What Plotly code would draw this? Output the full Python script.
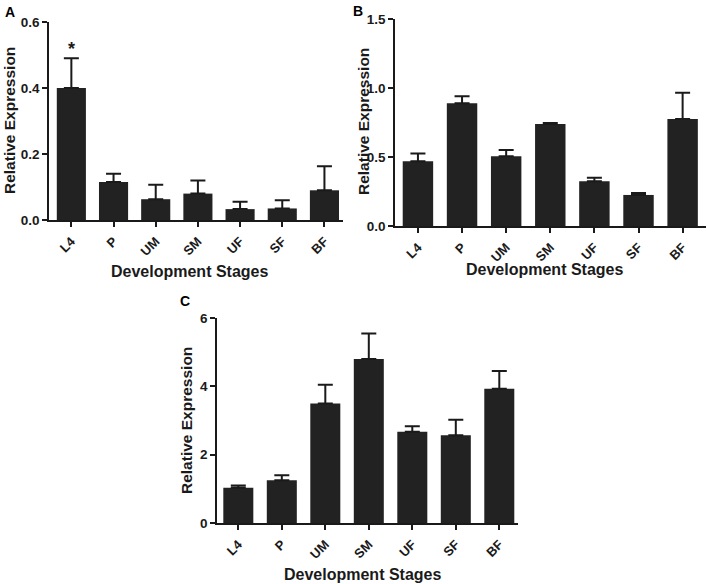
import plotly.graph_objects as go

stages = ["L4", "P", "UM", "SM", "UF", "SF", "BF"]

a_values = [0.400, 0.115, 0.063, 0.080, 0.033, 0.035, 0.090]
a_err = [0.090, 0.025, 0.044, 0.040, 0.022, 0.025, 0.073]

b_values = [0.470, 0.890, 0.505, 0.740, 0.325, 0.225, 0.775]
b_err = [0.055, 0.050, 0.045, 0.006, 0.025, 0.015, 0.190]

c_values = [1.03, 1.25, 3.50, 4.80, 2.67, 2.57, 3.93]
c_err = [0.07, 0.15, 0.55, 0.75, 0.16, 0.45, 0.52]

W, H = 708, 584
BAR = "#222222"
INK = "#1a1a1a"
FONT = "Liberation Sans, Arial, sans-serif"

fig = go.Figure()

panels = [
    ("x", "y", a_values, a_err),
    ("x2", "y2", b_values, b_err),
    ("x3", "y3", c_values, c_err),
]
for xa, ya, vals, errs in panels:
    fig.add_trace(go.Bar(
        x=stages, y=vals, xaxis=xa, yaxis=ya,
        marker=dict(color=BAR, line=dict(width=0)),
        width=0.69,
        error_y=dict(type="data", symmetric=False, array=errs,
                     arrayminus=[0] * len(errs), color=INK,
                     thickness=2, width=7.5),
        showlegend=False,
    ))

def px_x(x):
    return x / W

def px_y(y):
    return 1 - y / H

xcommon = dict(
    type="category", showline=True, linecolor=INK, linewidth=1.5,
    ticks="outside", ticklen=5, tickwidth=1.5, tickcolor=INK,
    tickangle=-45, showgrid=False, zeroline=False, automargin=False,
    ticklabelstandoff=2,
    tickfont=dict(family=FONT, size=13, color=INK, weight="bold"),
)
ycommon = dict(
    showline=True, linecolor=INK, linewidth=1.5,
    ticks="outside", ticklen=5, tickwidth=1.5, tickcolor=INK,
    showgrid=False, zeroline=False, automargin=False,
    tickfont=dict(family=FONT, size=13.5, color=INK, weight="bold"),
)

fig.update_layout(
    width=W, height=H,
    margin=dict(l=0, r=0, t=0, b=0, autoexpand=False),
    paper_bgcolor="white", plot_bgcolor="white",
    bargap=0.3,
    xaxis=dict(xcommon, domain=[px_x(49), px_x(343)], range=[-0.53, 6.44], anchor="y"),
    yaxis=dict(ycommon, domain=[px_y(220), px_y(22)], range=[0, 0.6],
               tickvals=[0, 0.2, 0.4, 0.6], ticktext=["0.0", "0.2", "0.4", "0.6"], anchor="x"),
    xaxis2=dict(xcommon, domain=[px_x(395), px_x(706)], range=[-0.52, 6.53], anchor="y2"),
    yaxis2=dict(ycommon, domain=[px_y(226), px_y(19)], range=[0, 1.5],
                tickvals=[0, 0.5, 1.0, 1.5], ticktext=["0.0", "0.5", "1.0", "1.5"], anchor="x2"),
    xaxis3=dict(xcommon, domain=[px_x(217), px_x(518)], range=[-0.49, 6.43], anchor="y3"),
    yaxis3=dict(ycommon, domain=[px_y(523), px_y(318)], range=[0, 6],
                tickvals=[0, 2, 4, 6], ticktext=["0", "2", "4", "6"], anchor="x3"),
)

xt_font = dict(family=FONT, size=16, color=INK, weight="bold")
yt_font = dict(family=FONT, size=15.5, color=INK, weight="bold")
label_font = dict(family=FONT, size=14, color="black", weight="bold")

annotations = [
    # panel letters
    dict(text="A", x=px_x(10), y=px_y(12), font=label_font),
    dict(text="B", x=px_x(358), y=px_y(11), font=label_font),
    dict(text="C", x=px_x(185), y=px_y(301), font=label_font),
    # x titles
    dict(text="Development Stages", x=px_x(189), y=px_y(271), font=xt_font),
    dict(text="Development Stages", x=px_x(544), y=px_y(269), font=xt_font),
    dict(text="Development Stages", x=px_x(362), y=px_y(574), font=xt_font),
    # y titles
    dict(text="Relative Expression", x=px_x(9), y=px_y(121), textangle=-90, font=yt_font),
    dict(text="Relative Expression", x=px_x(363), y=px_y(122), textangle=-90, font=yt_font),
    dict(text="Relative Expression", x=px_x(186), y=px_y(421), textangle=-90, font=yt_font),
]
for a in annotations:
    a.update(xref="paper", yref="paper", showarrow=False, xanchor="center", yanchor="middle")
    fig.add_annotation(**a)

# significance star over L4 in panel A
fig.add_annotation(text="*", x="L4", y=a_values[0] + a_err[0], xref="x", yref="y",
                   yanchor="bottom", yshift=-3, showarrow=False,
                   font=dict(family=FONT, size=18, color=INK, weight="bold"))

fig.write_html(
    "out.html",
    config={"displayModeBar": False},
    post_script="document.body.style.margin='0';document.body.style.overflow='hidden';",
)
